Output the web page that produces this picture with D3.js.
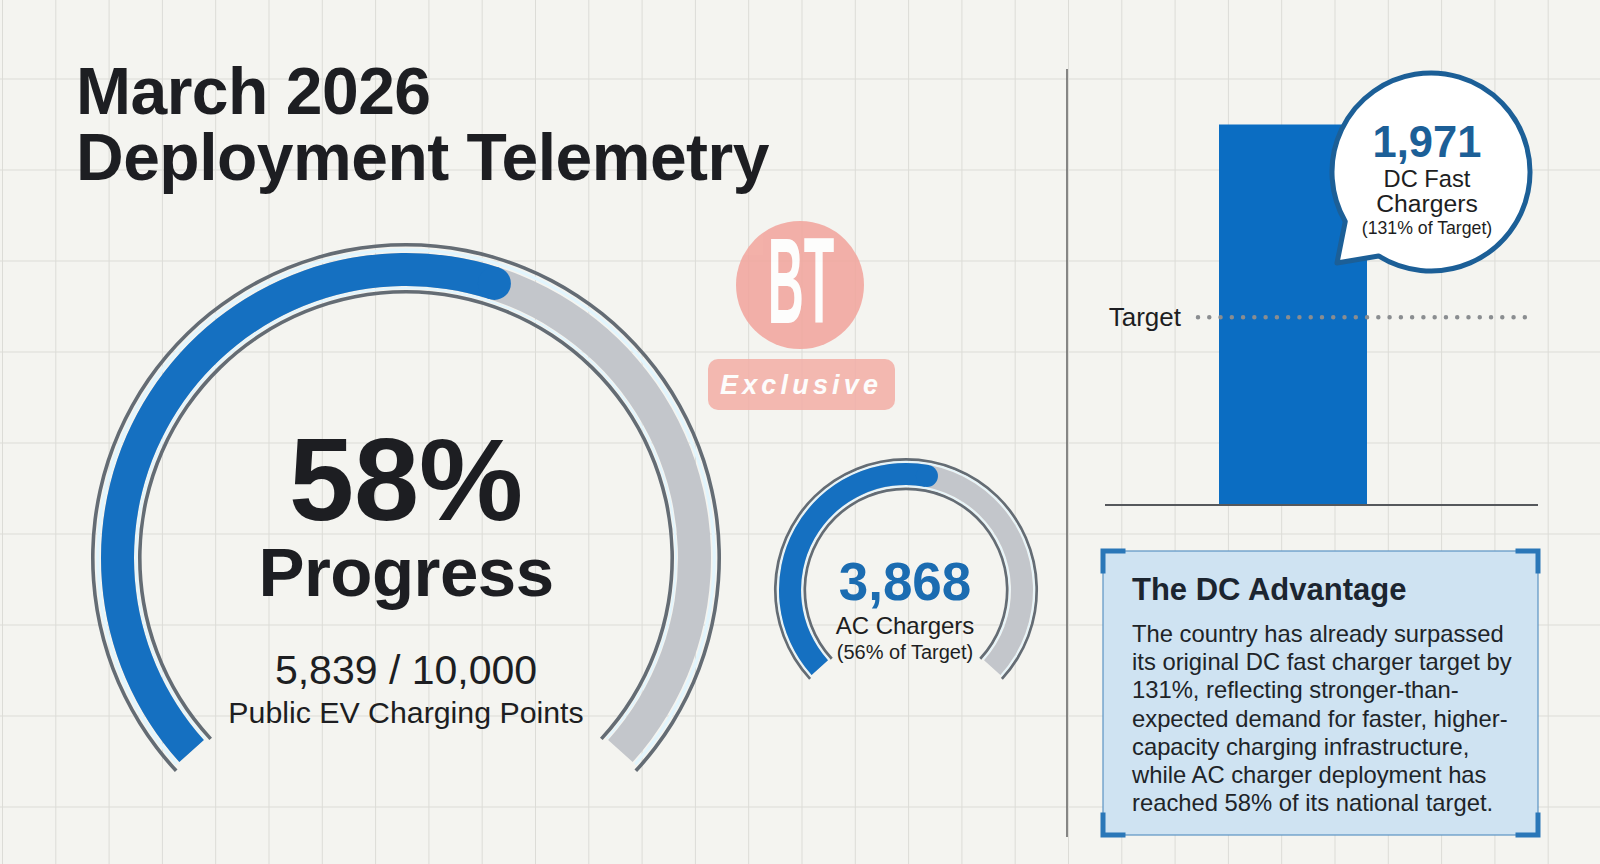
<!DOCTYPE html>
<html>
<head>
<meta charset="utf-8">
<script src="https://cdn.jsdelivr.net/npm/d3@7"></script>
<style>
  html, body { margin: 0; padding: 0; background: #f4f4f0; }
  svg { display: block; }
  text { font-family: "Liberation Sans", Arial, sans-serif; }
</style>
</head>
<body>
<svg id="chart" width="1600" height="864"></svg>
<script>
// ---------- DATA ----------
const titleLines = ["March 2026", "Deployment Telemetry"];
const gaugeNames = ["Public EV Charging Points", "AC Chargers"];
const gaugeValues = [5839, 3868];
const gaugeTargets = [10000, null];
const gaugeShares = [0.58, 0.56];
const barCategories = ["DC Fast Chargers"];
const barValues = [1971];
const barTargetShares = [1.31];
const barAxisDomain = [1050, 1971];
const targetLabel = "Target";
const boxTitle = "The DC Advantage";
const boxLines = [
  "The country has already surpassed",
  "its original DC fast charger target by",
  "131%, reflecting stronger-than-",
  "expected demand for faster, higher-",
  "capacity charging infrastructure,",
  "while AC charger deployment has",
  "reached 58% of its national target."
];
const logoText = ["BT", "Exclusive"];

// ---------- SETUP ----------
const W = 1600, H = 864;
const svg = d3.select("#chart");
const fmt = d3.format(",");
const pct = d3.format(".0%");
const BLUE = "#1570c1", GRAY_BAND = "#c3c6cb", LINE = "#646c74", LIGHT = "#e2f5fd", INK = "#1d1e22";

// background grid
const bg = svg.append("g");
bg.append("rect").attr("width", W).attr("height", H).attr("fill", "#f4f4f0");
const gx = d3.range(2.5, W, 53.3), gy = d3.range(-12, H, 91);
bg.selectAll("line.v").data(gx).join("line").attr("class", "v")
  .attr("x1", d => d).attr("x2", d => d).attr("y1", 0).attr("y2", H)
  .attr("stroke", "#dcdcd7").attr("stroke-width", 1);
bg.selectAll("line.h").data(gy).join("line").attr("class", "h")
  .attr("y1", d => d).attr("y2", d => d).attr("x1", 0).attr("x2", W)
  .attr("stroke", "#dcdcd7").attr("stroke-width", 1);

// title
svg.append("g").selectAll("text").data(titleLines).join("text")
  .attr("x", 76).attr("y", (d, i) => 114 + i * 66)
  .attr("font-size", 66).attr("font-weight", 700).attr("fill", INK)
  .attr("letter-spacing", -0.5)
  .text(d => d);

// ---------- GAUGES ----------
const deg = Math.PI / 180;
const angle = d3.scaleLinear().domain([0, 1]).range([-132 * deg, 132 * deg]);

function drawGauge(g, cx, cy, rOut, band0, band1, rIn, share, lw) {
  const G = g.append("g").attr("transform", `translate(${cx},${cy})`);
  const ring = (r, w, a0, a1) => d3.arc().innerRadius(r - w / 2).outerRadius(r + w / 2)
    .startAngle(a0).endAngle(a1)();
  const a0 = angle(0), a1 = angle(1);
  const ext = 0.8 * deg;
  G.append("path").attr("d", ring(rOut, lw, a0 - ext, a1 + ext)).attr("fill", LINE);
  G.append("path").attr("d", ring((rOut - lw / 2 + band1) / 2, (rOut - lw / 2 - band1) * 0.5, a0, a1)).attr("fill", LIGHT);
  G.append("path").attr("d", ring(rIn, lw, a0 - ext, a1 + ext)).attr("fill", LINE);
  G.append("path").attr("d", ring((rIn + lw / 2 + band0) / 2, (band0 - rIn - lw / 2) * 0.5, a0, a1)).attr("fill", LIGHT);
  G.append("path").attr("d", d3.arc().innerRadius(band0).outerRadius(band1).startAngle(a0).endAngle(a1)())
    .attr("fill", GRAY_BAND);
  const mid = (band0 + band1) / 2, half = (band1 - band0) / 2;
  const aEnd = angle(share) - half / mid;
  G.append("path").attr("d", d3.arc().innerRadius(band0).outerRadius(band1).startAngle(a0).endAngle(aEnd)())
    .attr("fill", BLUE);
  G.append("circle").attr("cx", mid * Math.sin(aEnd)).attr("cy", -mid * Math.cos(aEnd))
    .attr("r", half).attr("fill", BLUE);
  return G;
}

// big gauge
const big = drawGauge(svg, 406, 558, 313.2, 272, 305, 266.2, gaugeShares[0], 3.6);
big.append("text").attr("x", 0).attr("y", -38).attr("text-anchor", "middle")
  .attr("font-size", 117).attr("font-weight", 700).attr("fill", INK)
  .text(pct(gaugeShares[0]));
big.append("text").attr("x", 0).attr("y", 38).attr("text-anchor", "middle")
  .attr("font-size", 69).attr("font-weight", 700).attr("fill", INK).attr("letter-spacing", -0.5)
  .text("Progress");
big.append("text").attr("x", 0).attr("y", 126).attr("text-anchor", "middle")
  .attr("font-size", 41).attr("fill", INK)
  .text(`${fmt(gaugeValues[0])} / ${fmt(gaugeTargets[0])}`);
big.append("text").attr("x", 0).attr("y", 165).attr("text-anchor", "middle")
  .attr("font-size", 30.3).attr("fill", INK)
  .text(gaugeNames[0]);

// small gauge
const small = drawGauge(svg, 906, 590, 130.7, 105, 127, 101.2, gaugeShares[1], 2.7);
small.append("text").attr("x", -1).attr("y", 10).attr("text-anchor", "middle")
  .attr("font-size", 53).attr("font-weight", 700).attr("fill", "#1b6cb1")
  .text(fmt(gaugeValues[1]));
small.append("text").attr("x", -1).attr("y", 44).attr("text-anchor", "middle")
  .attr("font-size", 24).attr("fill", INK)
  .text(gaugeNames[1]);
small.append("text").attr("x", -1).attr("y", 69).attr("text-anchor", "middle")
  .attr("font-size", 20).attr("fill", INK)
  .text(`(${pct(gaugeShares[1])} of Target)`);

// ---------- LOGO ----------
const logo = svg.append("g").attr("opacity", 0.85);
logo.append("circle").attr("cx", 800).attr("cy", 285).attr("r", 64).attr("fill", "#f2a49c");
logo.append("text").attr("transform", "translate(801,323) scale(0.41,1)")
  .attr("text-anchor", "middle").attr("font-size", 122).attr("font-weight", 700)
  .attr("fill", "#ffffff").text(logoText[0]);
logo.append("rect").attr("x", 708).attr("y", 359).attr("width", 187).attr("height", 51)
  .attr("rx", 10).attr("fill", "#f3aea6");
logo.append("text").attr("x", 799).attr("y", 394).attr("text-anchor", "middle")
  .attr("font-family", "'Open Sans', sans-serif")
  .attr("font-size", 27).attr("font-weight", 700).attr("font-style", "italic")
  .attr("textLength", 158).attr("lengthAdjust", "spacing")
  .attr("fill", "#ffffff").text(logoText[1]);

// divider
svg.append("line").attr("x1", 1067).attr("x2", 1067).attr("y1", 69).attr("y2", 837)
  .attr("stroke", "#6a6a6a").attr("stroke-width", 1.6);

// ---------- BAR CHART ----------
const x = d3.scaleBand().domain(barCategories).range([1105, 1538])
  .paddingInner(0).paddingOuter(0.963).align(0.4);
const y = d3.scaleLinear().domain(barAxisDomain).range([505, 124.5]);
const barG = svg.append("g");
barG.selectAll("rect").data(barValues).join("rect")
  .attr("x", (d, i) => x(barCategories[i]))
  .attr("width", x.bandwidth())
  .attr("y", d => y(d))
  .attr("height", d => y(barAxisDomain[0]) - y(d))
  .attr("fill", "#0b6dc2");
barG.append("line").attr("x1", 1105).attr("x2", 1538)
  .attr("y1", y(barAxisDomain[0])).attr("y2", y(barAxisDomain[0]))
  .attr("stroke", "#55585c").attr("stroke-width", 2);
const targetVal = barValues[0] / barTargetShares[0];
const ty = y(targetVal);
barG.append("line").attr("x1", 1198).attr("x2", 1536).attr("y1", ty).attr("y2", ty)
  .attr("stroke", "#8a8d90").attr("stroke-width", 4.5).attr("stroke-linecap", "round")
  .attr("stroke-dasharray", "0 11.27");
barG.append("text").attr("x", 1181).attr("y", ty + 8.5).attr("text-anchor", "end")
  .attr("font-size", 26).attr("fill", INK).text(targetLabel);

// callout bubble
const bcx = 1431, bcy = 172, br = 99;
const pA = [bcx + br * Math.cos(150 * deg), bcy + br * Math.sin(150 * deg)];
const pB = [bcx + br * Math.cos(122 * deg), bcy + br * Math.sin(122 * deg)];
const tip = [1337, 263];
barG.append("path")
  .attr("d", `M${pB[0]},${pB[1]} A${br},${br} 0 1 0 ${pA[0]},${pA[1]} L${tip[0]},${tip[1]} Z`)
  .attr("fill", "#ffffff").attr("stroke", "#1c5f97").attr("stroke-width", 5)
  .attr("stroke-linejoin", "round");
barG.append("text").attr("x", 1427).attr("y", 157).attr("text-anchor", "middle")
  .attr("font-size", 43.5).attr("font-weight", 700).attr("fill", "#1c5f97")
  .text(fmt(barValues[0]));
const catWords = ["DC Fast", "Chargers"];
barG.selectAll("text.cat").data(catWords).join("text").attr("class", "cat")
  .attr("x", 1427).attr("y", (d, i) => 187 + i * 25).attr("text-anchor", "middle")
  .attr("font-size", (d, i) => i === 0 ? 23.7 : 24.7).attr("fill", INK).text(d => d);
barG.append("text").attr("x", 1427).attr("y", 234).attr("text-anchor", "middle")
  .attr("font-size", 17.7).attr("fill", INK)
  .text(`(${pct(barTargetShares[0])} of Target)`);

// ---------- INFO BOX ----------
const bx = 1103, by = 551, bw = 435, bh = 284;
const box = svg.append("g");
box.append("rect").attr("x", bx).attr("y", by).attr("width", bw).attr("height", bh)
  .attr("fill", "#cfe3f2").attr("stroke", "#5b93c4").attr("stroke-width", 1.2);
const cl = 20, cw = 5;
const corners = [
  [bx, by, 1, 1], [bx + bw, by, -1, 1], [bx, by + bh, 1, -1], [bx + bw, by + bh, -1, -1]
];
box.selectAll("path.corner").data(corners).join("path").attr("class", "corner")
  .attr("d", d => `M${d[0]},${d[1] + d[3] * cl} L${d[0]},${d[1]} L${d[0] + d[2] * cl},${d[1]}`)
  .attr("fill", "none").attr("stroke", "#2a77b8").attr("stroke-width", cw)
  .attr("stroke-linecap", "square");
box.append("text").attr("x", 1132).attr("y", 600)
  .attr("font-size", 31).attr("font-weight", 700).attr("fill", "#1c2530").text(boxTitle);
box.selectAll("text.body").data(boxLines).join("text").attr("class", "body")
  .attr("x", 1132).attr("y", (d, i) => 642 + i * 28.2)
  .attr("font-size", 23.8).attr("fill", "#202428").text(d => d);
</script>
</body>
</html>
